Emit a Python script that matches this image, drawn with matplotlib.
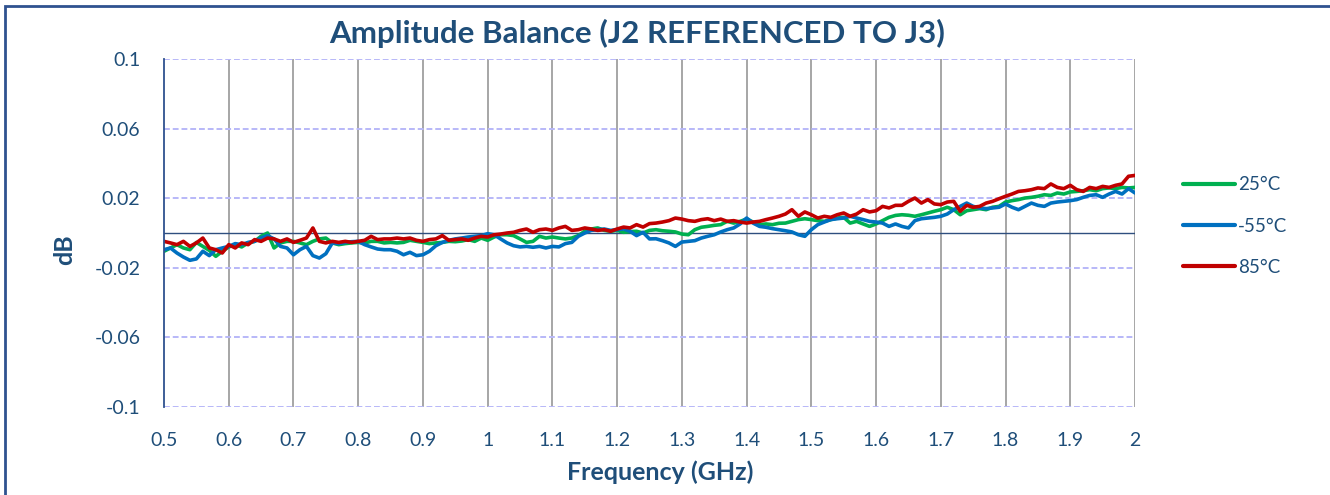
import matplotlib
matplotlib.use('Agg')
import matplotlib.pyplot as plt
import numpy as np
from matplotlib.patches import Rectangle

plt.rcParams['font.family'] = ['Lato', 'DejaVu Sans']

# ---------------- data ----------------
freq = np.round(np.linspace(0.5, 2.0, 151), 2)   # GHz, 0.01 GHz sampling

t25 = [
    -0.0105, -0.0086, -0.0067, -0.0086, -0.0096, -0.0054, -0.0077, -0.0100, -0.0134, -0.0105,
    -0.0080, -0.0067, -0.0080, -0.0057, -0.0048, -0.0019, 0.0000, -0.0086, -0.0057, -0.0048,
    -0.0048, -0.0057, -0.0067, -0.0048, -0.0034, -0.0029, -0.0057, -0.0067, -0.0061, -0.0057,
    -0.0054, -0.0057, -0.0048, -0.0048, -0.0057, -0.0054, -0.0057, -0.0054,
    -0.0042, -0.0048, -0.0054, -0.0061, -0.0057, -0.0054, -0.0048, -0.0050, -0.0046, -0.0038,
    -0.0048, -0.0029, -0.0042, -0.0023, -0.0010, -0.0010, -0.0015, -0.0034, -0.0054, -0.0048,
    -0.0019, -0.0029, -0.0023, -0.0029, -0.0034, -0.0029, -0.0015, 0.0010, 0.0023, 0.0029,
    0.0015, 0.0010, 0.0015, 0.0004, 0.0008, 0.0010, 0.0000, 0.0015,
    0.0019, 0.0013, 0.0010, 0.0006, -0.0006, -0.0010, 0.0019, 0.0033, 0.0038, 0.0044,
    0.0048, 0.0067, 0.0057, 0.0067, 0.0080, 0.0063, 0.0048, 0.0052, 0.0048, 0.0056,
    0.0057, 0.0067, 0.0077, 0.0082, 0.0077, 0.0071, 0.0067, 0.0077, 0.0086, 0.0090,
    0.0057, 0.0067, 0.0052, 0.0038, 0.0052, 0.0071, 0.0090, 0.0101,
    0.0105, 0.0102, 0.0096, 0.0105, 0.0115, 0.0125, 0.0134, 0.0148, 0.0134, 0.0105,
    0.0128, 0.0134, 0.0140, 0.0134, 0.0148, 0.0153, 0.0178, 0.0186, 0.0192, 0.0201,
    0.0205, 0.0211, 0.0220, 0.0216, 0.0230, 0.0224, 0.0236, 0.0239, 0.0243, 0.0249,
    0.0243, 0.0255, 0.0259, 0.0255, 0.0262, 0.0259, 0.0262,
]

tm55 = [
    -0.0096, -0.0086, -0.0115, -0.0138, -0.0157, -0.0149, -0.0105, -0.0130, -0.0096, -0.0086,
    -0.0077, -0.0061, -0.0067, -0.0054, -0.0048, -0.0029, -0.0015, -0.0034, -0.0077, -0.0086,
    -0.0125, -0.0096, -0.0077, -0.0130, -0.0144, -0.0119, -0.0057, -0.0061, -0.0054, -0.0050,
    -0.0048, -0.0067, -0.0080, -0.0092, -0.0096, -0.0096, -0.0105, -0.0125,
    -0.0111, -0.0130, -0.0125, -0.0105, -0.0073, -0.0054, -0.0042, -0.0034, -0.0029, -0.0023,
    -0.0019, -0.0015, -0.0004, -0.0010, -0.0034, -0.0057, -0.0073, -0.0080, -0.0077, -0.0082,
    -0.0077, -0.0086, -0.0077, -0.0080, -0.0061, -0.0054, -0.0019, 0.0000, 0.0015, 0.0019,
    0.0023, 0.0015, 0.0019, 0.0023, 0.0010, -0.0015, 0.0004, -0.0034,
    -0.0033, -0.0044, -0.0057, -0.0077, -0.0052, -0.0048, -0.0044, -0.0029, -0.0019, -0.0010,
    0.0006, 0.0019, 0.0029, 0.0052, 0.0086, 0.0057, 0.0038, 0.0033, 0.0025, 0.0019,
    0.0013, 0.0006, -0.0010, -0.0019, 0.0019, 0.0048, 0.0063, 0.0077, 0.0082, 0.0086,
    0.0096, 0.0086, 0.0077, 0.0067, 0.0063, 0.0057, 0.0038, 0.0052,
    0.0038, 0.0029, 0.0071, 0.0082, 0.0086, 0.0090, 0.0096, 0.0109, 0.0134, 0.0153,
    0.0172, 0.0153, 0.0144, 0.0140, 0.0144, 0.0148, 0.0167, 0.0148, 0.0134, 0.0153,
    0.0172, 0.0159, 0.0153, 0.0172, 0.0178, 0.0182, 0.0186, 0.0192, 0.0205, 0.0216,
    0.0220, 0.0205, 0.0224, 0.0239, 0.0224, 0.0255, 0.0230,
]

t85 = [
    -0.0048, -0.0057, -0.0067, -0.0048, -0.0077, -0.0057, -0.0029, -0.0086, -0.0096, -0.0115,
    -0.0067, -0.0086, -0.0057, -0.0067, -0.0038, -0.0048, -0.0029, -0.0034, -0.0048, -0.0034,
    -0.0054, -0.0042, -0.0029, 0.0029, -0.0048, -0.0057, -0.0048, -0.0054, -0.0048, -0.0054,
    -0.0048, -0.0042, -0.0019, -0.0038, -0.0034, -0.0034, -0.0029, -0.0034,
    -0.0029, -0.0042, -0.0048, -0.0038, -0.0034, -0.0015, -0.0042, -0.0038, -0.0034, -0.0042,
    -0.0029, -0.0019, -0.0023, -0.0010, -0.0006, 0.0000, 0.0004, 0.0015, 0.0023, 0.0004,
    0.0019, 0.0023, 0.0015, 0.0029, 0.0038, 0.0015, 0.0019, 0.0029, 0.0023, 0.0015,
    0.0019, 0.0010, 0.0023, 0.0034, 0.0029, 0.0048, 0.0034, 0.0054,
    0.0057, 0.0063, 0.0071, 0.0086, 0.0080, 0.0071, 0.0067, 0.0077, 0.0082, 0.0071,
    0.0080, 0.0067, 0.0071, 0.0063, 0.0057, 0.0063, 0.0067, 0.0077, 0.0086, 0.0096,
    0.0109, 0.0134, 0.0096, 0.0121, 0.0105, 0.0086, 0.0096, 0.0090, 0.0105, 0.0115,
    0.0096, 0.0109, 0.0134, 0.0121, 0.0128, 0.0153, 0.0144, 0.0159,
    0.0159, 0.0182, 0.0201, 0.0172, 0.0192, 0.0167, 0.0163, 0.0178, 0.0182, 0.0125,
    0.0159, 0.0148, 0.0153, 0.0172, 0.0182, 0.0197, 0.0211, 0.0224, 0.0239, 0.0243,
    0.0249, 0.0259, 0.0255, 0.0282, 0.0262, 0.0255, 0.0274, 0.0249, 0.0239, 0.0262,
    0.0255, 0.0268, 0.0262, 0.0274, 0.0282, 0.0326, 0.0331,
]

series_labels = ['25°C', '-55°C', '85°C']
x_ticks = [0.5, 0.6, 0.7, 0.8, 0.9, 1.0, 1.1, 1.2, 1.3, 1.4, 1.5, 1.6, 1.7, 1.8, 1.9, 2.0]
x_tick_labels = ['0.5', '0.6', '0.7', '0.8', '0.9', '1', '1.1', '1.2', '1.3', '1.4',
                 '1.5', '1.6', '1.7', '1.8', '1.9', '2']
y_ticks = [-0.1, -0.06, -0.02, 0.02, 0.06, 0.1]
y_tick_labels = ['-0.1', '-0.06', '-0.02', '0.02', '0.06', '0.1']

# ---------------- styling ----------------
W, H = 1330, 495
navy = '#1f4e79'
colors = ['#00b050', '#0070c0', '#c00000']

fig = plt.figure(figsize=(W / 100, H / 100), dpi=100)
fig.patch.set_facecolor('white')
ax = fig.add_axes([164 / W, 1 - 407 / H, 971 / W, 348 / H])
ax.set_xlim(0.5, 2.0)
ax.set_ylim(-0.1, 0.1)

for s in ['top', 'right', 'bottom']:
    ax.spines[s].set_visible(False)
ax.spines['left'].set_color('#2f528f')
ax.spines['left'].set_linewidth(1.3)
ax.spines['left'].set_zorder(4)

for xv in x_ticks[1:]:
    ax.axvline(xv, color='#a6a6a6', lw=1.4, zorder=1)
for yv in y_ticks:
    ax.axhline(yv, color='#b8b8f8', lw=1.4, ls=(0, (3, 1.5)), zorder=1)
ax.axhline(0, color='#2f4f7f', lw=1.0, zorder=2)

for ys, c, lab in zip([t25, tm55, t85], colors, series_labels):
    ax.plot(freq, ys, color=c, lw=2.6, label=lab, zorder=3,
            solid_joinstyle='round', solid_capstyle='round')

ax.set_xticks(x_ticks)
ax.set_xticklabels(x_tick_labels)
ax.set_yticks(y_ticks)
ax.set_yticklabels(y_tick_labels)
ax.tick_params(axis='both', length=0, labelsize=14, labelcolor=navy)
ax.tick_params(axis='x', pad=18)
ax.tick_params(axis='y', pad=17)

fig.text(637 / W, 1 - 33 / H, 'Amplitude Balance (J2 REFERENCED TO J3)',
         ha='center', va='center', fontsize=22.5, fontweight='bold', color=navy)
fig.text(660 / W, 1 - 472 / H, 'Frequency (GHz)', ha='center', va='center',
         fontsize=18, fontweight='bold', color=navy)
fig.text(65 / W, 1 - 250 / H, 'dB', ha='center', va='center', rotation=90,
         fontsize=18, fontweight='bold', color=navy)

leg = ax.legend(loc='center left', bbox_to_anchor=(1166 / W, 1 - 226 / H),
                bbox_transform=fig.transFigure, frameon=False, fontsize=13.5,
                handlelength=2.8, handletextpad=0.15, labelspacing=1.3)
for t in leg.get_texts():
    t.set_color(navy)
for l in leg.get_lines():
    l.set_linewidth(3)

fig.patches.append(Rectangle((5 / W, -0.2), 2, 1.2 - 6 / H, transform=fig.transFigure,
                             fill=False, ec='#2f528f', lw=2))

fig.savefig('out.png', dpi=100)
